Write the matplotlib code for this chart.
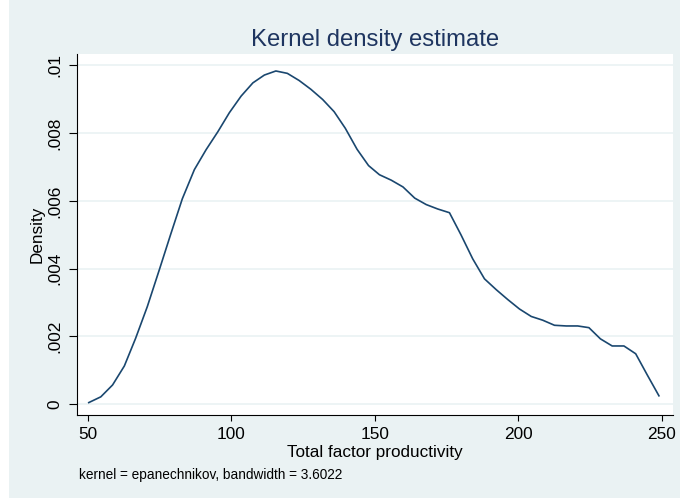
import matplotlib.pyplot as plt
from matplotlib.patches import Rectangle

plt.rcParams['font.family'] = ['Liberation Sans', 'DejaVu Sans']

# Kernel density evaluation points
tfp = [50.3, 54.5, 58.6, 62.7, 66.6, 70.7, 74.9, 78.8, 82.9, 87.1,
       91.2, 95.3, 99.3, 103.4, 107.5, 111.5, 115.5, 119.5, 123.6, 127.7,
       131.8, 135.8, 139.7, 143.8, 147.8, 151.6, 155.7, 159.8, 163.9, 167.9,
       171.9, 176.0, 180.0, 184.1, 188.2, 192.3, 196.3, 200.4, 204.5, 208.5,
       212.6, 216.7, 220.7, 224.6, 228.6, 232.7, 236.8, 240.9, 244.9, 249.0]
density = [0.00005, 0.00022, 0.00057, 0.00113, 0.00194, 0.00288, 0.00397, 0.00500, 0.00606, 0.00692,
           0.00751, 0.00804, 0.00860, 0.00909, 0.00948, 0.00971, 0.00983, 0.00976, 0.00955, 0.00929,
           0.00899, 0.00863, 0.00814, 0.00752, 0.00704, 0.00677, 0.00661, 0.00641, 0.00608, 0.00589,
           0.00576, 0.00565, 0.00500, 0.00429, 0.00370, 0.00338, 0.00309, 0.00281, 0.00259, 0.00248,
           0.00233, 0.00231, 0.00231, 0.00226, 0.00193, 0.00172, 0.00172, 0.00149, 0.00087, 0.00025]

xticks = [50, 100, 150, 200, 250]
yticks = [0, 0.002, 0.004, 0.006, 0.008, 0.01]
ylabels = ['0', '.002', '.004', '.006', '.008', '.01']

navy = '#1A476F'
title_col = '#1E3560'
bg = '#EAF2F3'

fig = plt.figure(figsize=(6.8, 4.98), dpi=100, facecolor=bg)
# thin white strip on the left edge
fig.patches.append(Rectangle((0, 0), 9 / 680, 1, transform=fig.transFigure,
                             facecolor='white', edgecolor='none', zorder=-1))

ax = fig.add_axes([77 / 680, 1 - 415 / 498, 596 / 680, 360.5 / 498])
ax.set_facecolor('white')
ax.plot(tfp, density, color=navy, lw=1.2, zorder=3)

ax.set_xlim(46.2, 253.9)
ax.set_ylim(-0.000316, 0.010316)
ax.set_xticks(xticks)
ax.set_yticks(yticks)
ax.set_yticklabels(ylabels, rotation=90, va='center')
ax.tick_params(direction='out', width=0.8, color='black', labelsize=12.4)
ax.tick_params(axis='x', length=4.5, pad=4)
ax.tick_params(axis='y', length=5.5, pad=5)
for y in yticks:
    ax.axhline(y, color=bg, lw=1.2, zorder=1)

for side in ['top', 'right']:
    ax.spines[side].set_visible(False)
for side in ['left', 'bottom']:
    ax.spines[side].set_linewidth(0.8)

ax.set_xlabel('Total factor productivity', fontsize=12.3, labelpad=2)
ax.set_ylabel('Density', fontsize=12.3, labelpad=2)
ax.set_title('Kernel density estimate', fontsize=17.2, color=title_col, pad=6)
fig.text(79 / 680, 1 - 475 / 498, 'kernel = epanechnikov, bandwidth = 3.6022',
         fontsize=9.8, va='center')

fig.savefig('out.png', dpi=100, facecolor=fig.get_facecolor())
